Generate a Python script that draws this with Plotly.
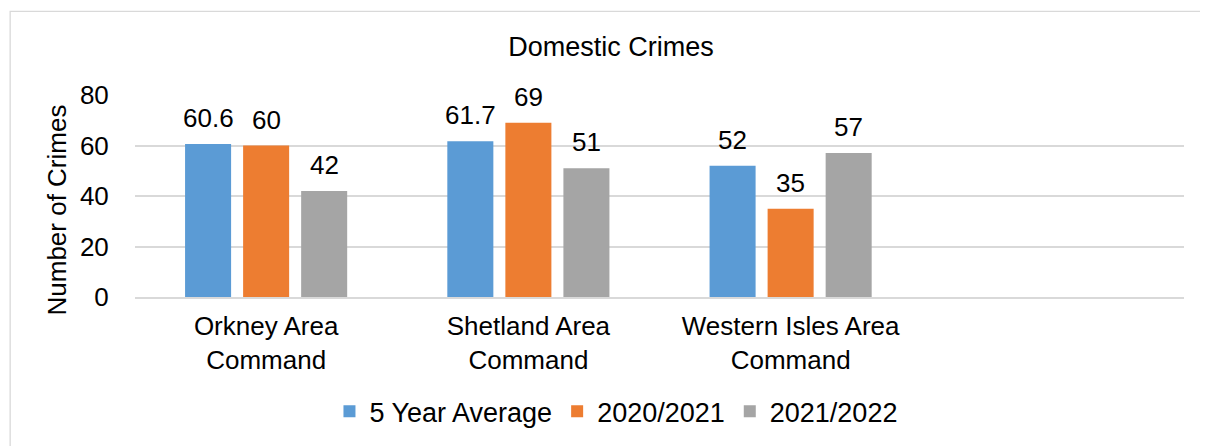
import plotly.graph_objects as go

categories = ["Orkney Area<br>Command", "Shetland Area<br>Command", "Western Isles Area<br>Command"]
series_names = ["5 Year Average", "2020/2021", "2021/2022"]
avg_5yr = [60.6, 61.7, 52]
y2020_21 = [60, 69, 35]
y2021_22 = [42, 51, 57]
label_text = [["60.6", "61.7", "52"], ["60", "69", "35"], ["42", "51", "57"]]
colors = ["#5B9BD5", "#ED7D31", "#A5A5A5"]
y_ticks = [0, 20, 40, 60, 80]

FONT = "Liberation Sans, Arial, sans-serif"
FS = 26
FS_BIG = 27
BARGAP = 0.336
BARGROUPGAP = 0.207
W, H = 1200, 438

series = [avg_5yr, y2020_21, y2021_22]
xpos = list(range(len(categories)))

fig = go.Figure()
for name, vals, col in zip(series_names, series, colors):
    fig.add_trace(go.Bar(x=xpos, y=vals, name=name, marker=dict(color=col, line=dict(width=0))))

slot = (1 - BARGAP) / 3
annotations = []
for j, (vals, txts) in enumerate(zip(series, label_text)):
    for i, (v, t) in enumerate(zip(vals, txts)):
        annotations.append(dict(x=i + (j - 1) * slot, y=v, xref="x", yref="y", text=t,
                                showarrow=False, yanchor="bottom", yshift=9,
                                font=dict(family=FONT, size=FS, color="#000000")))

annotations.append(dict(x=-0.074, y=0.43, xref="paper", yref="paper", text="Number of Crimes",
                        textangle=-90, showarrow=False, xanchor="center", yanchor="middle",
                        font=dict(family=FONT, size=FS, color="#000000")))

fig.update_layout(
    width=W, height=H,
    margin=dict(l=127, r=24, t=87, b=148),
    paper_bgcolor="white", plot_bgcolor="white",
    barmode="group", bargap=BARGAP, bargroupgap=BARGROUPGAP,
    title=dict(text="Domestic Crimes", x=0.5025, xref="container", xanchor="center",
               y=1 - 39 / H, yanchor="middle",
               font=dict(family=FONT, size=FS_BIG, color="#000000")),
    font=dict(family=FONT, size=FS, color="#000000"),
    showlegend=True,
    legend=dict(orientation="h", x=0.4585, xanchor="center", y=-0.56, yanchor="middle",
                font=dict(family=FONT, size=FS_BIG, color="#000000"), traceorder="normal"),
    annotations=annotations,
    shapes=[dict(type="rect", xref="paper", yref="paper", x0=-0.119, x1=1.03, y0=-0.8, y1=1.414,
                 line=dict(color="#D9D9D9", width=1.3), fillcolor="rgba(0,0,0,0)", layer="below")],
)
fig.update_xaxes(range=[-0.5, 3.5], tickvals=xpos, ticktext=categories, showgrid=False,
                 showline=True, linecolor="#D9D9D9", linewidth=1.5, zeroline=False,
                 ticks="outside", ticklen=5, tickcolor="rgba(0,0,0,0)",
                 tickfont=dict(family=FONT, size=FS, color="#000000"))
fig.update_yaxes(range=[0, 80], tickvals=y_ticks, showgrid=True, gridcolor="#D9D9D9", gridwidth=1.5,
                 zeroline=False, showline=False, ticks="outside", ticklen=20,
                 tickcolor="rgba(0,0,0,0)", tickfont=dict(family=FONT, size=FS, color="#000000"))

fig.write_html("out.html")
